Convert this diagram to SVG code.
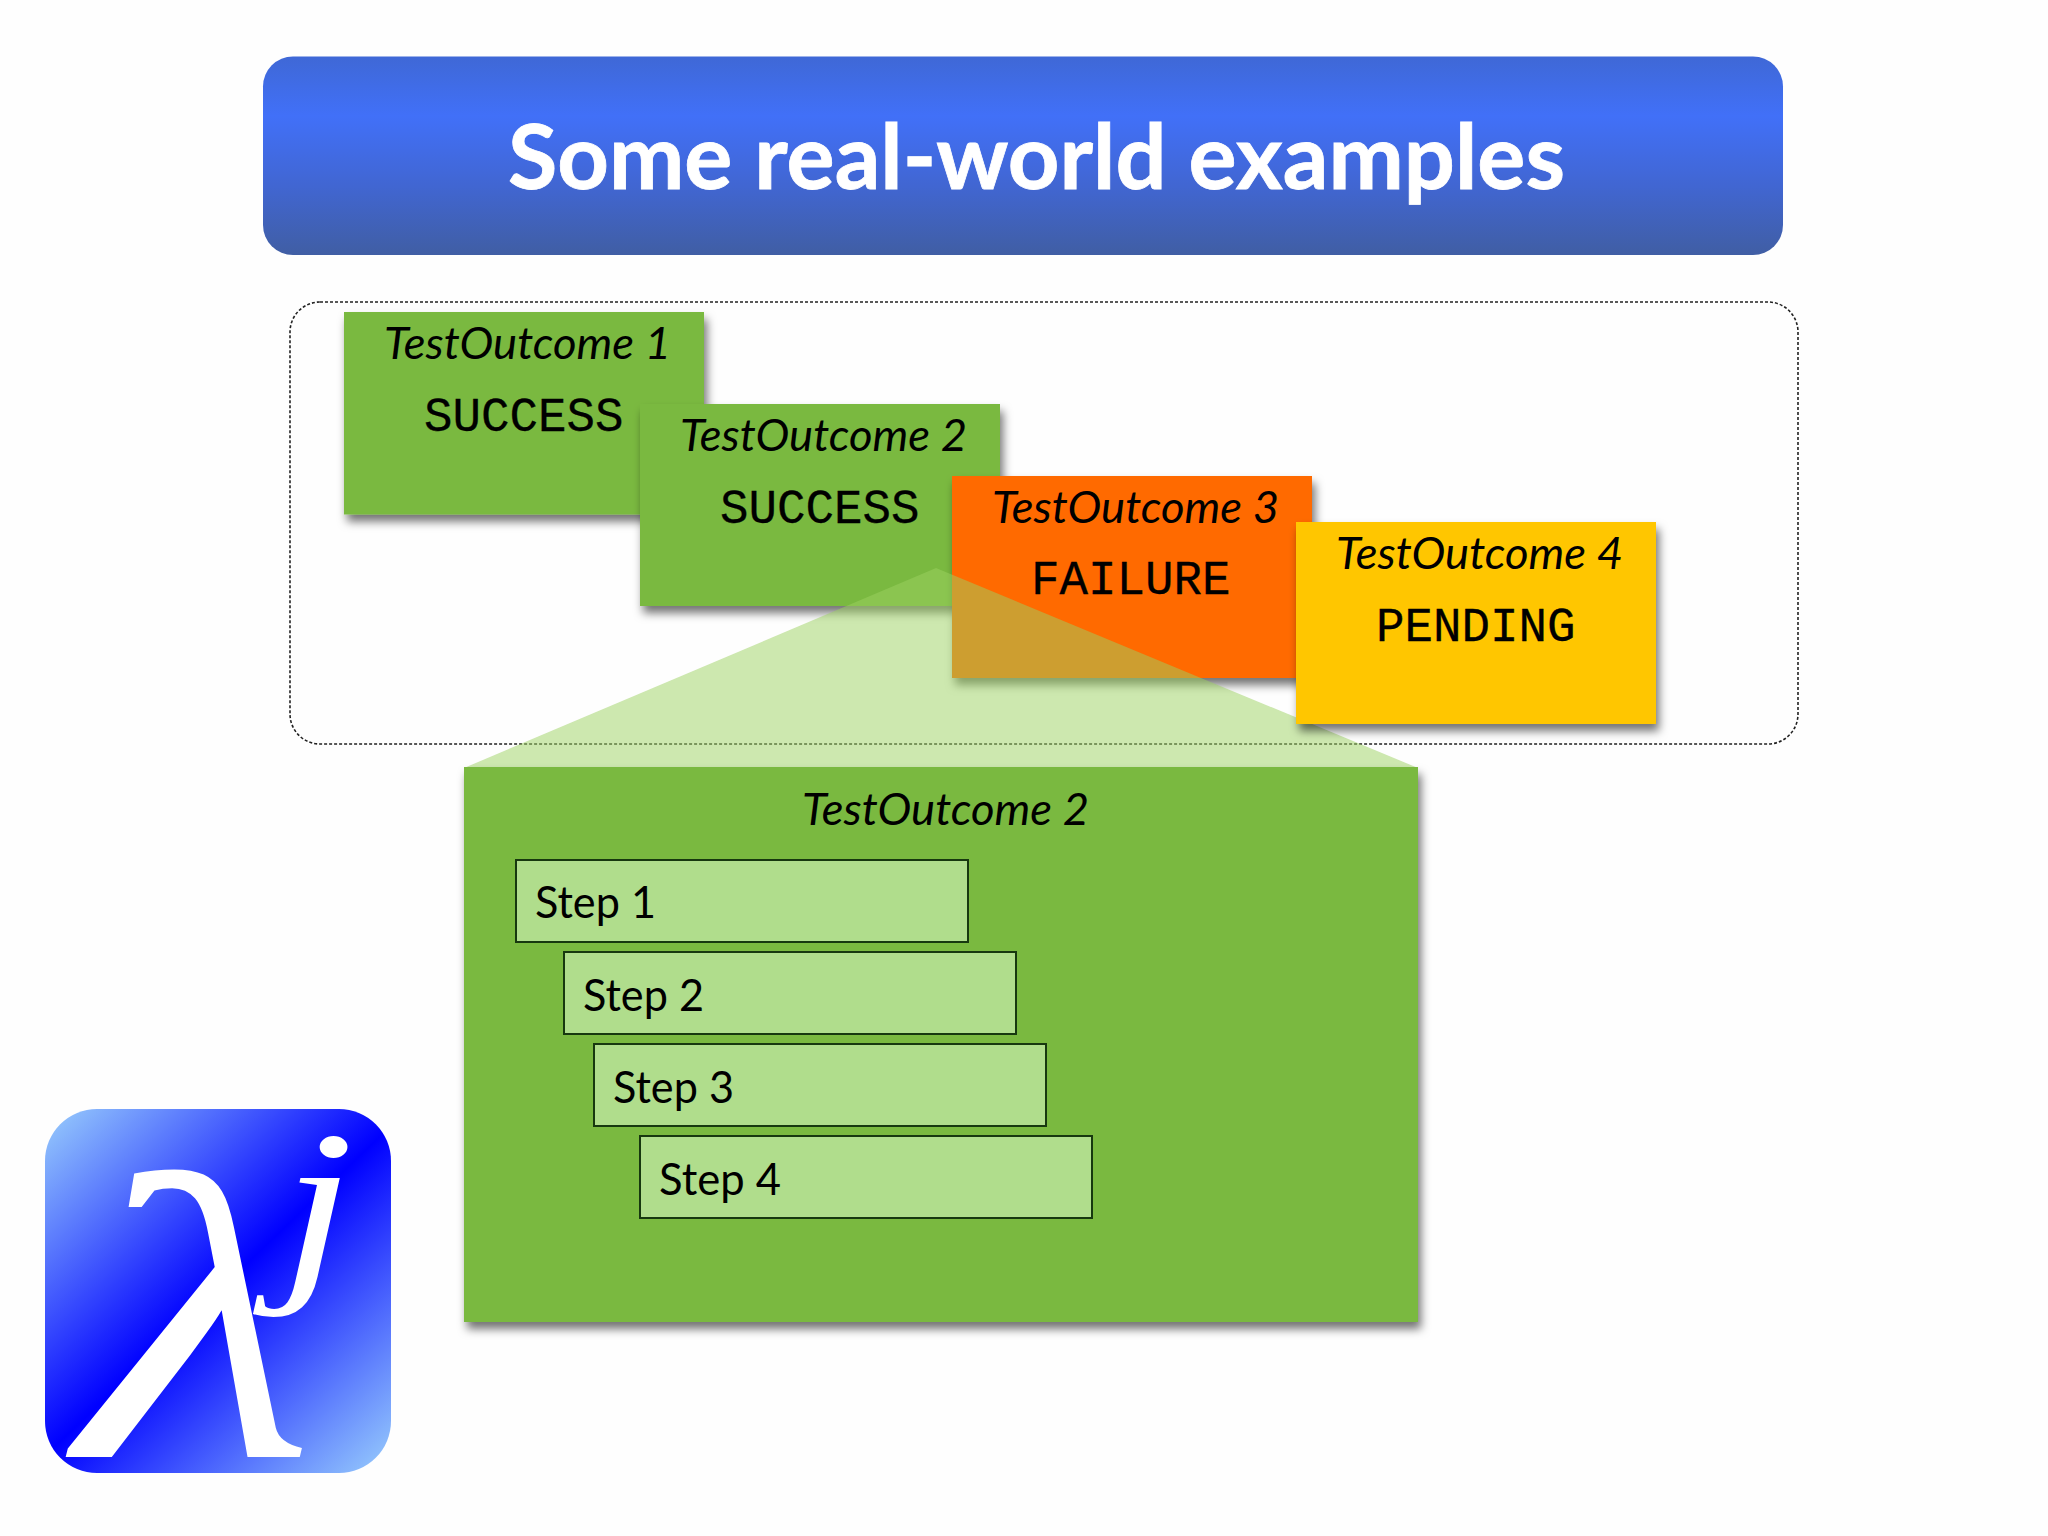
<svg xmlns="http://www.w3.org/2000/svg" width="2048" height="1536" viewBox="0 0 2048 1536">
<defs>
<linearGradient id="titleGrad" x1="0" y1="0" x2="0" y2="1">
<stop offset="0" stop-color="#3f68d6"/><stop offset="0.3" stop-color="#4170f8"/><stop offset="0.65" stop-color="#4166d2"/><stop offset="1" stop-color="#405ea4"/>
</linearGradient>
<linearGradient id="logoGrad" gradientUnits="userSpaceOnUse" x1="55" y1="1120" x2="381" y2="1462">
<stop offset="0" stop-color="#90c2fc"/><stop offset="0.5" stop-color="#0000ff"/><stop offset="1" stop-color="#90c2fc"/>
</linearGradient>
<filter id="sh" x="-10%" y="-10%" width="125%" height="125%"><feDropShadow dx="3" dy="7" stdDeviation="5" flood-color="#000" flood-opacity="0.55"/></filter>
<style>
.card{filter:url(#sh)}
.it{font-family:"Lato","Liberation Sans",sans-serif;font-style:italic;font-size:44px;fill:#000}
.mo{font-family:"Liberation Mono",monospace;font-size:47.5px;fill:#000;stroke:#000;stroke-width:0.3}
.st{font-family:"Lato","Liberation Sans",sans-serif;font-size:44px;fill:#000}
.step{fill:#b0dd8c;stroke:#17380f;stroke-width:2}
.g{fill:#7ab941}
</style>
</defs>
<rect width="2048" height="1536" fill="#fefefe"/>
<g id="title">
<rect x="263" y="56.500" width="1520" height="198.500" rx="30" fill="url(#titleGrad)"/>
<text x="508" y="189" font-family="Lato,'Liberation Sans',sans-serif" font-weight="700" font-size="90" fill="#fff" stroke="#fff" stroke-width="0.8" textLength="1057" lengthAdjust="spacingAndGlyphs">Some real-world examples</text>
</g>
<g id="frame"><rect x="290" y="302" width="1508" height="442" rx="30" fill="none" stroke="#222" stroke-width="1.600" stroke-dasharray="3 2"/></g>
<g id="outcome1">
<rect class="g card" x="344" y="312" width="360" height="202.500"/>
<text class="it" x="384" y="359" textLength="287" lengthAdjust="spacingAndGlyphs">TestOutcome 1</text>
<text class="mo" x="424" y="431">SUCCESS</text>
</g>
<g id="outcome2">
<rect class="g card" x="640" y="404" width="360" height="202"/>
<text class="it" x="680" y="451" textLength="287" lengthAdjust="spacingAndGlyphs">TestOutcome 2</text>
<text class="mo" x="720" y="523">SUCCESS</text>
</g>
<g id="outcome3">
<rect class="card" x="952" y="476" width="360" height="202" fill="#ff6a00"/>
<text class="it" x="992" y="523" textLength="287" lengthAdjust="spacingAndGlyphs">TestOutcome 3</text>
<text class="mo" x="1031" y="594">FAILURE</text>
</g>
<g id="connectors"><polygon points="936,568 464,768 1418,768" fill="#9bd160" fill-opacity="0.5"/></g>
<g id="outcome4">
<rect class="card" x="1296" y="522" width="360" height="202" fill="#ffc600"/>
<text class="it" x="1336" y="569" textLength="287" lengthAdjust="spacingAndGlyphs">TestOutcome 4</text>
<text class="mo" x="1376" y="641">PENDING</text>
</g>
<g id="detail">
<rect class="g card" x="464" y="767" width="954" height="555"/>
<text class="it" x="802" y="825" textLength="287" lengthAdjust="spacingAndGlyphs">TestOutcome 2</text>
</g>
<g id="step1"><rect class="step" x="516" y="860" width="452" height="82"/><text class="st" x="535" y="918" textLength="121" lengthAdjust="spacingAndGlyphs">Step 1</text></g>
<g id="step2"><rect class="step" x="564" y="952" width="452" height="82"/><text class="st" x="583" y="1011" textLength="121" lengthAdjust="spacingAndGlyphs">Step 2</text></g>
<g id="step3"><rect class="step" x="594" y="1044" width="452" height="82"/><text class="st" x="613" y="1103" textLength="121" lengthAdjust="spacingAndGlyphs">Step 3</text></g>
<g id="step4"><rect class="step" x="640" y="1136" width="452" height="82"/><text class="st" x="659" y="1195" textLength="122" lengthAdjust="spacingAndGlyphs">Step 4</text></g>
<g id="logo">
<rect x="45" y="1109" width="346" height="364" rx="52" fill="url(#logoGrad)"/>
<text transform="translate(79,1457) scale(1.27,0.95)" font-family="'Liberation Serif',serif" font-style="italic" font-size="430" fill="#fff">λ</text>
<text transform="translate(281,1273) scale(1.14,0.9)" font-family="'Liberation Serif',serif" font-style="italic" font-size="230" fill="#fff">j</text>
</g>
</svg>
